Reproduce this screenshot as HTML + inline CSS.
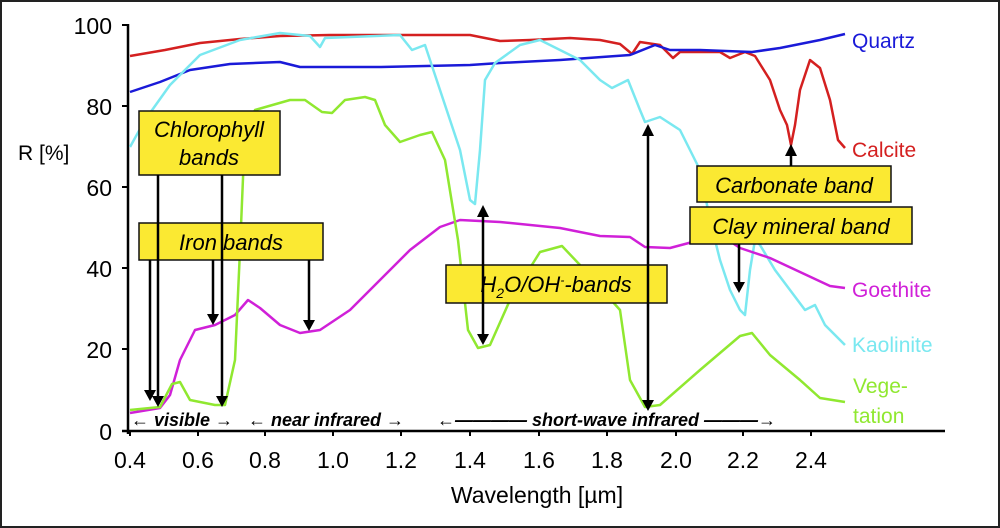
<!DOCTYPE html>
<html><head><meta charset="utf-8"><style>
html,body{margin:0;padding:0;background:#fff}
svg{display:block}
text{font-family:"Liberation Sans",sans-serif}
</style></head><body>
<svg width="1000" height="528" viewBox="0 0 1000 528">
<rect x="1" y="1" width="998" height="526" fill="#fff" stroke="#222" stroke-width="2"/>
<g stroke="#000" stroke-width="2.5" fill="none">
<line x1="128" y1="24" x2="128" y2="434"/>
<line x1="122" y1="431" x2="945" y2="431"/>
<g stroke-width="2"><line x1="122" y1="25" x2="128" y2="25"/><line x1="122" y1="106" x2="128" y2="106"/><line x1="122" y1="187" x2="128" y2="187"/><line x1="122" y1="268" x2="128" y2="268"/><line x1="122" y1="349" x2="128" y2="349"/>
<path d="M130,431v5M198,431v5M265,431v5M333,431v5M401,431v5M470,431v5M539,431v5M607,431v5M676,431v5M743,431v5M811,431v5"/></g>
</g>
<g font-size="23" fill="#000" text-anchor="end"><text x="112" y="34">100</text><text x="112" y="115">80</text><text x="112" y="196">60</text><text x="112" y="277">40</text><text x="112" y="358">20</text><text x="112" y="440">0</text></g>
<g font-size="23" fill="#000" text-anchor="middle"><text x="130" y="468">0.4</text><text x="198" y="468">0.6</text><text x="265" y="468">0.8</text><text x="333" y="468">1.0</text><text x="401" y="468">1.2</text><text x="470" y="468">1.4</text><text x="539" y="468">1.6</text><text x="607" y="468">1.8</text><text x="676" y="468">2.0</text><text x="743" y="468">2.2</text><text x="811" y="468">2.4</text>
<text x="537" y="503">Wavelength [µm]</text></g>
<text x="18" y="160" font-size="21">R [%]</text>
<g fill="none" stroke-width="2.5" stroke-linejoin="round">
<polyline stroke="#d42020" points="130,56 165,50 200,43 240,39 280,36 330,35 400,35 470,35 500,41 530,40 570,38 600,40 620,44 632,54 640,42 660,45 673,58 680,52 720,52 730,58 745,52 755,56 770,80 780,110 787,125 791,145 795,125 800,90 810,60 820,68 830,100 838,140 845,148"/>
<polyline stroke="#1a1ad8" points="130,92 160,82 190,70 230,64 280,62 300,67 380,67 470,65 500,63 560,60 630,55 655,45 670,50 700,50 752,52 780,48 820,40 845,34"/>
<polyline stroke="#7ae8f0" points="130,147 145,120 170,85 200,55 240,40 280,33 310,36 320,47 325,38 400,35 412,50 425,45 440,90 460,150 470,200 475,204 480,150 485,80 495,63 520,45 540,40 580,60 600,80 612,88 628,80 640,110 645,122 660,117 680,130 700,170 710,220 720,260 730,290 740,310 745,315 750,270 755,240 760,245 775,270 790,290 805,310 815,305 825,325 845,345"/>
<polyline stroke="#d020d8" points="130,413 160,408 170,395 180,360 195,330 215,325 235,315 248,300 260,308 280,325 300,333 320,330 350,310 380,280 410,250 440,227 460,220 500,222 560,228 600,236 630,237 645,247 670,248 700,240 725,238 740,248 770,258 800,272 830,286 845,288"/>
<polyline stroke="#90e830" points="130,410 160,407 172,384 180,382 190,400 215,405 225,405 235,360 240,250 245,130 255,110 290,100 305,100 322,112 332,113 345,100 365,97 375,100 385,125 400,142 420,135 432,132 445,160 458,240 468,330 478,348 490,345 510,300 540,252 562,246 580,265 620,310 630,380 645,407 660,405 700,370 740,336 752,333 770,355 800,380 820,398 845,402"/>
</g>
<g fill="#fbe932" stroke="#111" stroke-width="1.5">
<rect x="139" y="111" width="141" height="64"/><rect x="139" y="223" width="184" height="37"/>
<rect x="446" y="265" width="221" height="38"/><rect x="697" y="166" width="194" height="36"/><rect x="690" y="207" width="222" height="37"/>
</g>
<g font-size="22" font-style="italic" fill="#000" text-anchor="middle">
<text x="209" y="137">Chlorophyll</text><text x="209" y="165">bands</text>
<text x="231" y="250">Iron bands</text>
<text x="556" y="292">H<tspan font-size="14" dy="6">2</tspan><tspan dy="-6">O/OH</tspan><tspan font-size="12" dy="-8">-</tspan><tspan dy="8">-bands</tspan></text>
<text x="794" y="193">Carbonate band</text><text x="801" y="234">Clay mineral band</text>
</g>
<g stroke="#000" stroke-width="2.5" fill="none">
<path d="M158,175V398M222,175V398M150,260V392M213,260V316M309,260V322M483,215V336M648,134V402M791,166V154M739,244V284"/>
</g>
<g fill="#000">
<path d="M152,396h12l-6,11zM216,396h12l-6,11zM144,390h12l-6,11zM207,314h12l-6,11zM303,320h12l-6,11zM477,334h12l-6,11zM642,400h12l-6,11zM733,282h12l-6,11z"/>
<path d="M477,217h12l-6,-12zM642,136h12l-6,-12zM785,156h12l-6,-12z"/>
</g>
<g font-size="18" font-style="italic" font-weight="bold" fill="#000">
<text x="131" y="426">← visible →</text><text x="248" y="426">← near infrared →</text>
<text x="437" y="426">←———— short-wave infrared ———→</text>
</g>
<g font-size="21">
<text x="852" y="48" fill="#1a1ad8">Quartz</text><text x="852" y="157" fill="#d42020">Calcite</text>
<text x="852" y="297" fill="#d020d8">Goethite</text><text x="852" y="352" fill="#7ae8f0">Kaolinite</text>
<text x="853" y="393" fill="#90e830">Vege-</text><text x="853" y="423" fill="#90e830">tation</text>
</g>
</svg>
</body></html>
